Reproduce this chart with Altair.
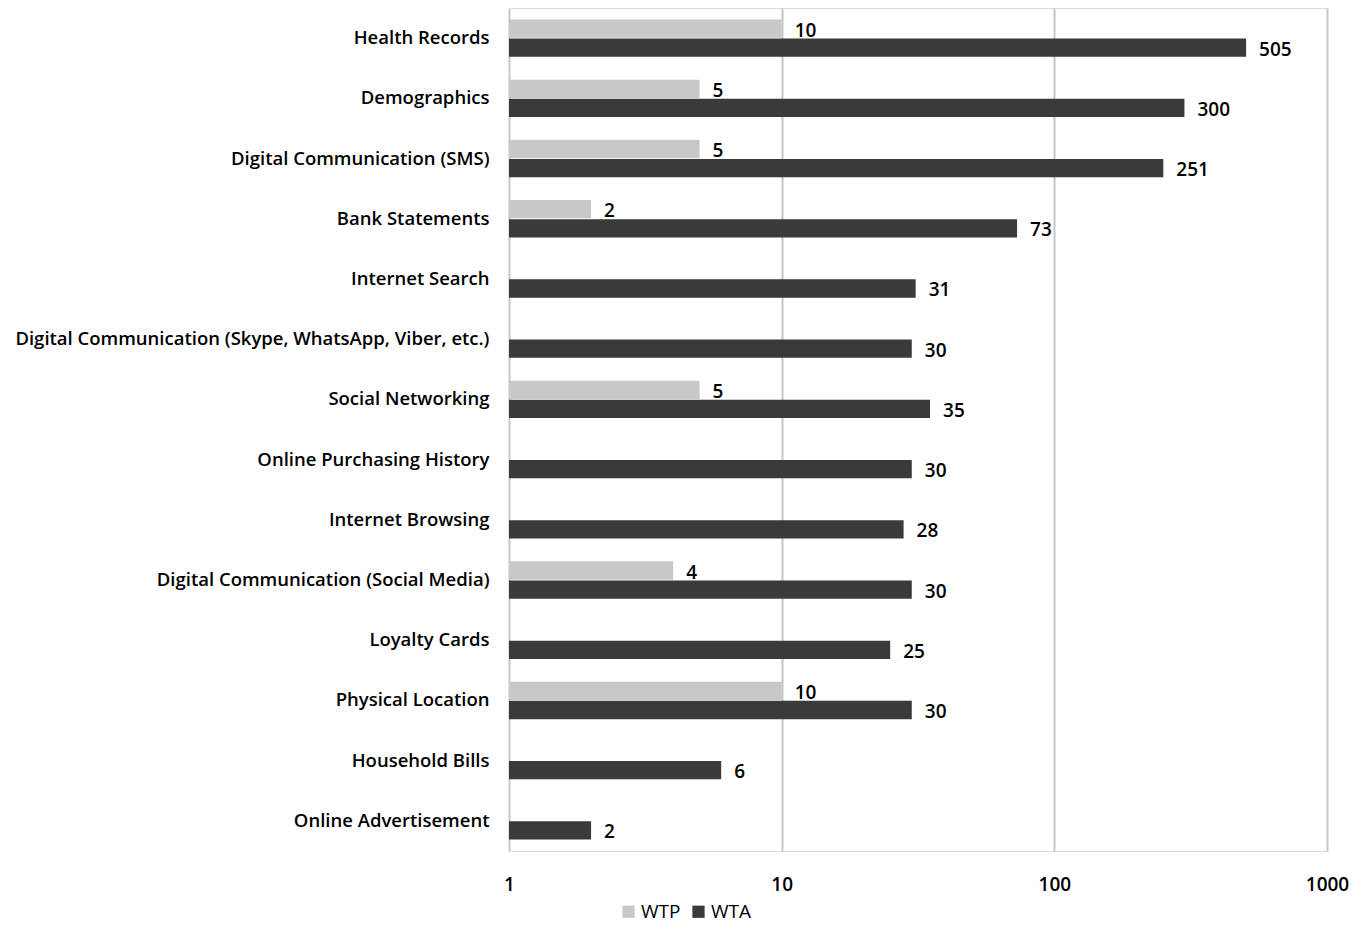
import altair as alt
import pandas as pd

categories = [
    "Health Records",
    "Demographics",
    "Digital Communication (SMS)",
    "Bank Statements",
    "Internet Search",
    "Digital Communication (Skype, WhatsApp, Viber, etc.)",
    "Social Networking",
    "Online Purchasing History",
    "Internet Browsing",
    "Digital Communication (Social Media)",
    "Loyalty Cards",
    "Physical Location",
    "Household Bills",
    "Online Advertisement",
]
wtp = [10, 5, 5, 2, None, None, 5, None, None, 4, None, 10, None, None]
wta = [505, 300, 251, 73, 31, 30, 35, 30, 28, 30, 25, 30, 6, 2]
series = ["WTP", "WTA"]
colors = ["#c8c8c8", "#3a3a3a"]
x_ticks = [1, 10, 100, 1000]

rows = []
for c, p, a in zip(categories, wtp, wta):
    if p is not None:
        rows.append({"category": c, "series": "WTP", "value": p})
    rows.append({"category": c, "series": "WTA", "value": a})
df = pd.DataFrame(rows)

FONT = "Open Sans"
FS = 19
FW = 600

y_enc = alt.Y(
    "category:N",
    sort=categories,
    scale=alt.Scale(paddingInner=0.38, paddingOuter=0.19),
    axis=alt.Axis(
        title=None, domain=False, ticks=False, labelPadding=20,
        labelFontSize=18.5, labelFont=FONT, labelFontWeight=FW,
        labelColor="#000000", labelLimit=700,
    ),
)
yoff_enc = alt.YOffset("series:N", sort=series, scale=alt.Scale(paddingInner=0.04))

x_scale = alt.Scale(type="log", domain=[1, 1000])

bars = alt.Chart(df).mark_bar().encode(
    x=alt.X(
        "value:Q",
        scale=x_scale,
        axis=alt.Axis(
            title=None, values=x_ticks, format="d", domain=False, ticks=False,
            grid=True, gridColor="#c6c6c6", gridWidth=2, labelFlush=False,
            labelFontSize=FS, labelFont=FONT, labelFontWeight=FW,
            labelColor="#000000", labelPadding=24,
        ),
    ),
    x2=alt.datum(1),
    y=y_enc,
    yOffset=yoff_enc,
    color=alt.Color(
        "series:N",
        sort=series,
        scale=alt.Scale(domain=series, range=colors),
        legend=alt.Legend(
            title=None, orient="none", legendX=110, legendY=894,
            direction="horizontal", symbolType="square", symbolSize=150,
            symbolStrokeWidth=0, labelFontSize=FS, labelFont=FONT,
            labelFontWeight=FW - 100, labelColor="#000000", columnPadding=8,
            labelOffset=3,
        ),
    ),
)

labels = alt.Chart(df).mark_text(
    align="left", baseline="middle", dx=13, dy=2,
    fontSize=FS, font=FONT, fontWeight=FW, color="#000000",
).encode(
    x=alt.X("value:Q", scale=x_scale),
    y=alt.Y("category:N", sort=categories),
    yOffset=alt.YOffset("series:N", sort=series),
    text=alt.Text("value:Q", format="d"),
)

chart = (
    alt.layer(bars, labels)
    .properties(
        width=818, height=843,
        autosize=alt.AutoSizeParams(type="none"),
        padding={"left": 501, "top": 0, "right": 22, "bottom": 78},
    )
    .configure_view(stroke=None)
    .configure(background="#ffffff")
)

chart.save("out.html", embed_options={"renderer": "svg", "actions": False})
